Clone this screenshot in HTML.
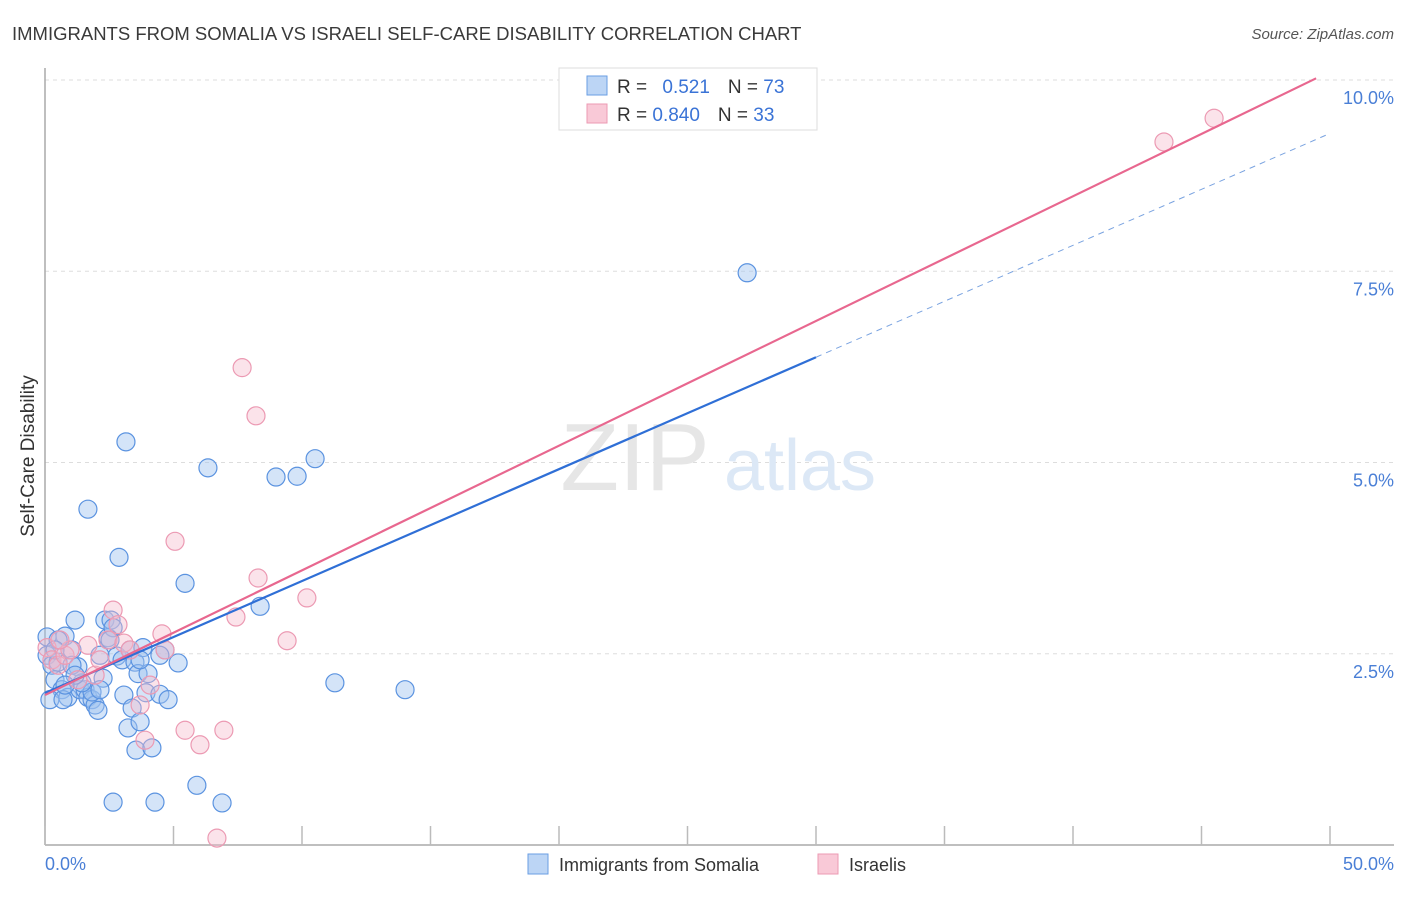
<!DOCTYPE html>
<html><head><meta charset="utf-8"><style>
body{margin:0;background:#fff;font-family:"Liberation Sans",sans-serif}
svg text{font-family:"Liberation Sans",sans-serif}
</style></head><body>
<svg id="chart" width="1406" height="892" viewBox="0 0 1406 892" xmlns="http://www.w3.org/2000/svg">
<text x="12" y="40" font-size="18.5" fill="#3a3a3a">IMMIGRANTS FROM SOMALIA VS ISRAELI SELF-CARE DISABILITY CORRELATION CHART</text>
<text x="1394" y="39" font-size="15" fill="#555" text-anchor="end" font-style="italic">Source: ZipAtlas.com</text>
<g id="grid"></g>
<g>
<text x="635" y="490" font-size="96" fill="#e6e6e6" text-anchor="middle" font-family="Liberation Serif, serif">ZIP</text>
<text x="800" y="490" font-size="72" fill="#dce8f6" text-anchor="middle">atlas</text>
</g>
<line x1="45" y1="68" x2="45" y2="845" stroke="#aaa" stroke-width="1.5"/>
<line x1="45" y1="845" x2="1394" y2="845" stroke="#aaa" stroke-width="1.5"/>
<g id="ticks"></g>
<g id="points"></g>
<g id="lines"></g>
<text transform="translate(34,456) rotate(-90)" font-size="19" fill="#333" text-anchor="middle">Self-Care Disability</text>
<text x="45" y="870" font-size="18" fill="#4a7fd6">0.0%</text>
<text x="1394" y="870" font-size="18" fill="#4a7fd6" text-anchor="end">50.0%</text>
<g>
<rect x="559" y="68" width="258" height="62" fill="#fff" stroke="#ddd"/>
<rect x="587" y="76" width="20" height="19" fill="#bcd5f5" stroke="#6a9ee3"/>
<rect x="587" y="104" width="20" height="19" fill="#f9c9d7" stroke="#ec9ab3"/>
<text x="617" y="93" font-size="19" fill="#333">R = <tspan fill="#3a73d6" dx="10">0.521</tspan><tspan dx="18" fill="#333">N = </tspan><tspan fill="#3a73d6">73</tspan></text>
<text x="617" y="121" font-size="19" fill="#333">R = <tspan fill="#3a73d6">0.840</tspan><tspan dx="18" fill="#333">N = </tspan><tspan fill="#3a73d6">33</tspan></text>
</g>
<g>
<rect x="528" y="854" width="20" height="20" fill="#bcd5f5" stroke="#6a9ee3"/>
<text x="559" y="871" font-size="18" fill="#333">Immigrants from Somalia</text>
<rect x="818" y="854" width="20" height="20" fill="#f9c9d7" stroke="#ec9ab3"/>
<text x="849" y="871" font-size="18" fill="#333">Israelis</text>
</g>
</svg>
<script>
const yTicks=[2.5,5.0,7.5,10.0];
const yTickLabels=["2.5%","5.0%","7.5%","10.0%"];
const xTicks=[0,5,10,15,20,25,30,35,40,45,50];
const somaliaX=[0.08,0.08,0.27,0.39,0.51,0.66,0.78,0.89,1.05,1.17,1.28,1.36,1.56,1.67,1.67,1.83,1.95,2.06,2.14,2.26,2.33,2.45,2.57,2.65,2.80,2.88,3.00,3.07,3.15,3.23,3.31,3.39,3.50,3.54,3.62,3.70,3.81,3.93,4.01,4.16,4.28,4.47,4.67,4.79,5.18,5.45,5.91,6.34,6.89,8.37,8.99,9.81,10.51,11.28,14.01,27.32,2.65,0.51,1.05,0.19,1.83,0.70,1.44,3.70,4.47,2.53,1.17,0.39,2.14,0.78];
const somaliaY=[2.72,2.48,2.35,2.16,2.39,2.03,2.73,1.93,2.55,2.94,2.33,2.03,2.03,4.39,1.93,1.90,1.83,1.76,2.48,2.18,2.94,2.71,2.94,2.84,2.47,3.76,2.42,1.96,5.27,1.53,2.55,1.79,2.39,1.24,2.24,1.61,2.58,1.99,2.24,1.27,0.56,1.97,2.55,1.90,2.38,3.42,0.78,4.93,0.55,3.12,4.81,4.82,5.05,2.12,2.03,7.48,0.56,2.68,2.35,1.90,2.00,1.90,2.12,2.42,2.48,2.68,2.22,2.55,2.03,2.09];
const israelisX=[0.08,0.27,0.51,0.78,0.97,1.28,1.67,1.95,2.14,2.45,2.65,2.84,3.07,3.31,3.70,3.89,4.09,4.55,4.67,5.06,5.45,6.03,6.69,6.96,7.43,7.67,8.21,8.29,9.42,10.19,43.54,45.49,0.58];
const israelisY=[2.58,2.42,2.35,2.48,2.55,2.16,2.61,2.22,2.42,2.68,3.07,2.88,2.64,2.55,1.83,1.37,2.09,2.76,2.55,3.97,1.50,1.31,0.09,1.50,2.98,6.24,5.61,3.49,2.67,3.23,9.19,9.50,2.68];
const somaliaFit=[1.987,0.1463];
const israelisFit=[1.96,0.163];
const NS="http://www.w3.org/2000/svg";
const sx=v=>45+v*25.7, sy=v=>845-v*76.5;
function mk(tag,attrs,parent){const e=document.createElementNS(NS,tag);for(const k in attrs)e.setAttribute(k,attrs[k]);parent.appendChild(e);return e;}
const grid=document.getElementById('grid');
yTicks.forEach((t,i)=>{
  const l=mk('line',{x1:45,x2:1394,y1:sy(t),y2:sy(t),stroke:'#ddd','stroke-dasharray':'4,4'},grid);
  
  
  const tx=mk('text',{x:1394,y:sy(t)+24,'font-size':18,fill:'#4a7fd6','text-anchor':'end'},grid);
  tx.textContent=yTickLabels[i];
  
  
});
const ticks=document.getElementById('ticks');
xTicks.forEach(t=>{
  const l=mk('line',{x1:sx(t),x2:sx(t),y1:826,y2:845,stroke:'#bbb','stroke-width':1.5},ticks);
  
  
});
const pts=document.getElementById('points');
somaliaX.forEach((x,i)=>{
  const c=mk('circle',{cx:sx(x),cy:sy(somaliaY[i]),r:9,fill:'rgba(160,196,240,0.45)',stroke:'#5b93e0','stroke-width':1.2},pts);
  
  
});
israelisX.forEach((x,i)=>{
  const c=mk('circle',{cx:sx(x),cy:sy(israelisY[i]),r:9,fill:'rgba(246,185,203,0.4)',stroke:'#ec9ab3','stroke-width':1.2},pts);
  
  
});
const lines=document.getElementById('lines');
const f=(fit,x)=>fit[0]+fit[1]*x;
let a=mk('line',{x1:sx(0),y1:sy(f(somaliaFit,0)),x2:sx(30),y2:sy(f(somaliaFit,30)),stroke:'#2f6fd6','stroke-width':2.2},lines);


let b=mk('line',{x1:sx(30),y1:sy(f(somaliaFit,30)),x2:sx(50),y2:sy(f(somaliaFit,50)),stroke:'#7aa3e0','stroke-width':1,'stroke-dasharray':'6,5'},lines);


let c=mk('line',{x1:sx(0),y1:sy(f(israelisFit,0)),x2:sx(49.46),y2:sy(f(israelisFit,49.46)),stroke:'#e8678f','stroke-width':2.2},lines);


</script>
</body></html>
